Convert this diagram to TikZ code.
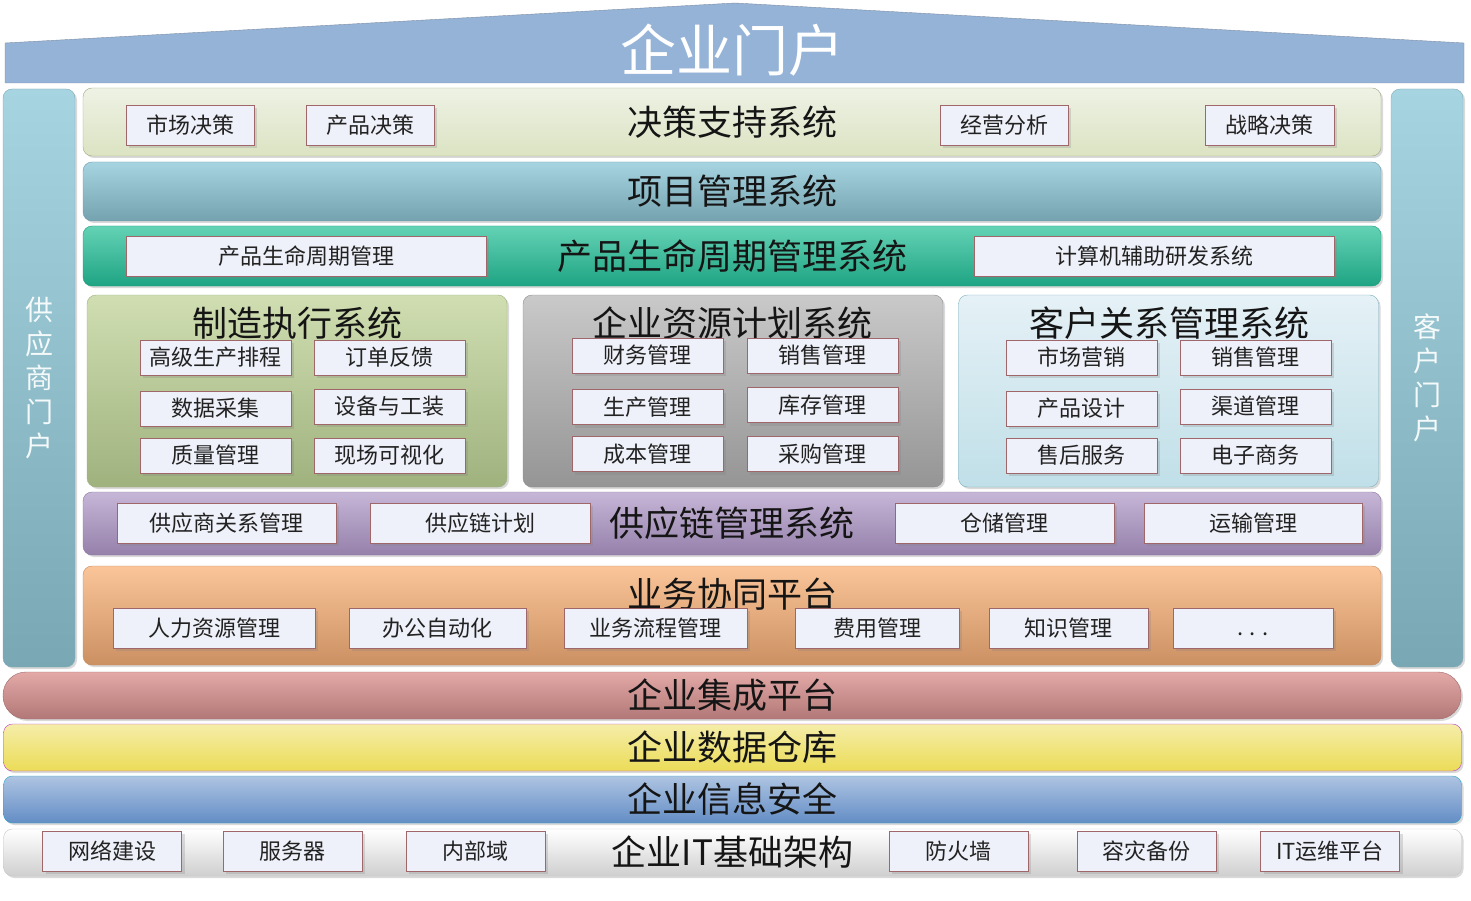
\documentclass[tikz,border=0pt]{standalone}
\usepackage{fontspec}
\setmainfont{Noto Sans CJK SC}
\usetikzlibrary{shadows}

\definecolor{roofblue}{HTML}{95B3D7}
\definecolor{roofline}{HTML}{7D8DA3}
\definecolor{boxfill}{HTML}{EEF1F9}
\definecolor{boxred}{HTML}{A0676A}
\definecolor{textgray}{HTML}{222222}
\definecolor{titlegray}{HTML}{151515}
\definecolor{pillartop}{HTML}{A6D4E1}
\definecolor{pillarbot}{HTML}{79A7B3}
\definecolor{pillarline}{HTML}{7FAAB6}
\definecolor{pillartext}{HTML}{F4F9FA}
\definecolor{dssline}{HTML}{9FA884}
\definecolor{dsstop}{HTML}{EEF2E5}
\definecolor{dssbot}{HTML}{DBE3C2}
\definecolor{pmline}{HTML}{6C9CAB}
\definecolor{pmtop}{HTML}{A6D4E1}
\definecolor{pmbot}{HTML}{74A2AF}
\definecolor{plmline}{HTML}{1A9B7B}
\definecolor{plmtop}{HTML}{64D2B5}
\definecolor{plmbot}{HTML}{1EA483}
\definecolor{mesline}{HTML}{9DAF80}
\definecolor{mestop}{HTML}{D0DEB1}
\definecolor{mesbot}{HTML}{9FB27E}
\definecolor{erpline}{HTML}{8C8C8C}
\definecolor{erptop}{HTML}{C9C9C9}
\definecolor{erpbot}{HTML}{959595}
\definecolor{crmline}{HTML}{7FB0BF}
\definecolor{crmtop}{HTML}{E5F1F6}
\definecolor{crmbot}{HTML}{C0DFE8}
\definecolor{scmline}{HTML}{8C78A0}
\definecolor{scmtop}{HTML}{C6B6D7}
\definecolor{scmbot}{HTML}{9580AA}
\definecolor{bcpline}{HTML}{C48A5E}
\definecolor{bcptop}{HTML}{FAC599}
\definecolor{bcpbot}{HTML}{CB9062}
\definecolor{eipline}{HTML}{A06A6A}
\definecolor{eiptop}{HTML}{E2A9A7}
\definecolor{eipbot}{HTML}{B27877}
\definecolor{edwline}{HTML}{B93AD0}
\definecolor{edwtop}{HTML}{F5EDA9}
\definecolor{edwbot}{HTML}{EBDC57}
\definecolor{eisline}{HTML}{2AA6C8}
\definecolor{eistop}{HTML}{AEC4E2}
\definecolor{eisbot}{HTML}{638DC5}
\definecolor{eitline}{HTML}{C8C8C8}
\definecolor{eitbot}{HTML}{CFCFCF}

\begin{document}
\begin{tikzpicture}[x=1pt,y=-1pt,
  band/.style={draw,rounded corners=9pt,inner sep=0pt,minimum width=1298pt,
    drop shadow={opacity=0.3,shadow xshift=2pt,shadow yshift=-2pt},
    font=\fontsize{35}{40}\selectfont,text=titlegray},
  floor/.style={band,minimum width=1458pt,minimum height=47pt},
  pillar/.style={draw=pillarline,rounded corners=9pt,inner sep=0pt,
    minimum width=72pt,minimum height=578pt,top color=pillartop,bottom color=pillarbot,
    drop shadow={opacity=0.3,shadow xshift=2pt,shadow yshift=-2pt},
    align=center,text=pillartext,font=\fontsize{28}{34}\selectfont},
  syspanel/.style={band,minimum width=420pt,minimum height=192pt},
  systitle/.style={inner sep=0pt,font=\fontsize{35}{40}\selectfont,text=titlegray},
  itembox/.style={draw=boxred,fill=boxfill,inner sep=0pt,minimum height=40pt,
    drop shadow={opacity=0.25,shadow xshift=3pt,shadow yshift=-3pt},
    font=\fontsize{22}{26}\selectfont,text=textgray},
  smallbox/.style={itembox,minimum width=151pt,minimum height=35pt}]

\useasboundingbox (0,0) rectangle (1471,901);

\draw[roofline,fill=roofblue] (5,83) -- (5,43) -- (735,3) -- (1464,43) -- (1464,83) -- cycle;
\node[inner sep=0pt,text=white,font=\fontsize{56}{60}\selectfont] (portal) at (732,50) {企业门户};

\node[pillar] (supplier) at (39,378) {供\\应\\商\\门\\户};
\node[pillar] (customer) at (1427,378) {客\\户\\门\\户};

\node[band,minimum height=68pt,draw=dssline,top color=dsstop,bottom color=dssbot] (dss) at (732,122) {决策支持系统};
\node[band,minimum height=59pt,draw=pmline,top color=pmtop,bottom color=pmbot] (pm) at (732,191.5) {项目管理系统};
\node[band,minimum height=60pt,draw=plmline,top color=plmtop,bottom color=plmbot] (plm) at (732,256) {产品生命周期管理系统};

\node[syspanel,draw=mesline,top color=mestop,bottom color=mesbot] (mes) at (297,391) {};
\node[syspanel,draw=erpline,top color=erptop,bottom color=erpbot] (erp) at (733,391) {};
\node[syspanel,draw=crmline,top color=crmtop,bottom color=crmbot] (crm) at (1168.5,391) {};
\node[systitle] (mestitle) at (297,323) {制造执行系统};
\node[systitle] (erptitle) at (732,323) {企业资源计划系统};
\node[systitle] (crmtitle) at (1169,323) {客户关系管理系统};

\node[band,minimum height=63pt,draw=scmline,top color=scmtop,bottom color=scmbot] (scm) at (732,523.5) {供应链管理系统};
\node[band,minimum height=99pt,draw=bcpline,top color=bcptop,bottom color=bcpbot] (bcp) at (732,615.5) {};
\node[systitle] (bcptitle) at (732,594) {业务协同平台};

\node[floor,rounded corners=23pt,draw=eipline,top color=eiptop,bottom color=eipbot] (eip) at (732,695.5) {企业集成平台};
\node[floor,draw=edwline,top color=edwtop,bottom color=edwbot] (edw) at (732.5,747.5) {企业数据仓库};
\node[floor,draw=eisline,top color=eistop,bottom color=eisbot] (eis) at (732.5,799.5) {企业信息安全};
\node[floor,draw=eitline,top color=white,bottom color=eitbot] (eit) at (732.5,852.5) {企业IT基础架构};

\foreach \n/\x/\w/\t in {d1/190/128/市场决策,d2/370/128/产品决策,d3/1004/128/经营分析,d4/1269.5/129/战略决策}
  \node[itembox,minimum width=\w pt] (\n) at (\x,125) {\t};
\foreach \n/\x/\t in {p1/306/产品生命周期管理,p2/1154/计算机辅助研发系统}
  \node[itembox,minimum width=360pt] (\n) at (\x,256) {\t};

\foreach \n/\x/\y/\t in {m1/215.5/357.5/高级生产排程,m2/389.5/357.5/订单反馈,m3/215.5/408.5/数据采集,m4/389.5/406.5/设备与工装,m5/215.5/455.5/质量管理,m6/389.5/455.5/现场可视化,
  e1/647.5/355.5/财务管理,e2/822.5/355.5/销售管理,e3/647.5/407/生产管理,e4/822.5/405/库存管理,e5/647.5/454/成本管理,e6/822.5/454/采购管理,
  c1/1081.5/357.5/市场营销,c2/1255.5/357.5/销售管理,c3/1081.5/408.5/产品设计,c4/1255.5/406.5/渠道管理,c5/1081.5/455.5/售后服务,c6/1255.5/455.5/电子商务}
  \node[smallbox] (\n) at (\x,\y) {\t};

\foreach \n/\x/\w/\t in {s1/226.5/219/供应商关系管理,s2/480/220/供应链计划,s3/1004.5/219/仓储管理,s4/1253/218/运输管理}
  \node[itembox,minimum width=\w pt] (\n) at (\x,523) {\t};
\foreach \n/\x/\w/\t in {b1/214/202/人力资源管理,b2/437.5/177/办公自动化,b3/655.5/183/业务流程管理,b4/877/164/费用管理,b5/1068.5/159/知识管理,b6/1253/160/{\smash{\raisebox{-7pt}{. . .}}}}
  \node[itembox,minimum width=\w pt] (\n) at (\x,628) {\t};
\foreach \n/\x/\t in {i1/112/网络建设,i2/292.5/服务器,i3/475.5/内部域,i4/958.5/防火墙,i5/1146.5/容灾备份,i6/1330/IT运维平台}
  \node[itembox,minimum width=139pt] (\n) at (\x,851) {\t};
\end{tikzpicture}
\end{document}
